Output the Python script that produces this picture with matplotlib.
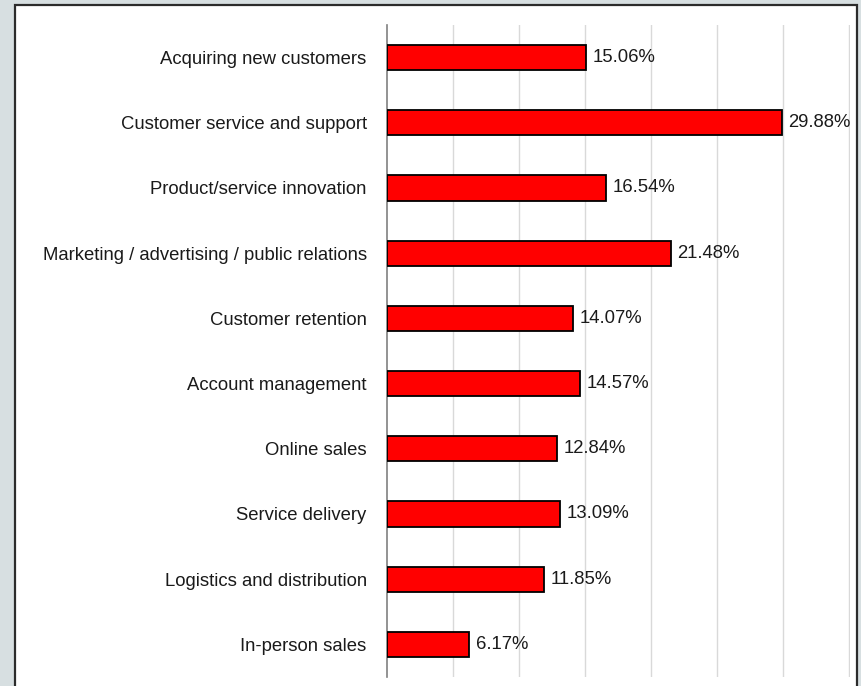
import matplotlib
matplotlib.use("Agg")
import matplotlib.pyplot as plt
from matplotlib import font_manager
from matplotlib.patches import Rectangle

categories = [
    "Acquiring new customers",
    "Customer service and support",
    "Product/service innovation",
    "Marketing / advertising / public relations",
    "Customer retention",
    "Account management",
    "Online sales",
    "Service delivery",
    "Logistics and distribution",
    "In-person sales",
]
values = [15.06, 29.88, 16.54, 21.48, 14.07, 14.57, 12.84, 13.09, 11.85, 6.17]

names = {f.name for f in font_manager.fontManager.ttflist}
family = "Liberation Sans Narrow" if "Liberation Sans Narrow" in names else "Liberation Sans"
narrow = family == "Liberation Sans Narrow"
plt.rcParams["font.family"] = [family, "DejaVu Sans"]
fsize = 15.5 if narrow else 13.3

W, H = 862, 686
fig = plt.figure(figsize=(W / 100, H / 100), dpi=100)
fig.patch.set_facecolor("#d7dfe1")

# white panel with dark frame
panel = Rectangle((15 / W, -0.05), (857 - 15) / W, 1 - 5 / H + 0.05,
                  transform=fig.transFigure, facecolor="white",
                  edgecolor="#2b2b2b", linewidth=1.6, zorder=-10)
fig.patches.append(panel)

left, right, top, bottom = 387.5, 850.5, 25, 677
ax = fig.add_axes([left / W, 1 - bottom / H, (right - left) / W, (bottom - top) / H])
ax.set_facecolor("none")
ax.set_zorder(5)

n = len(categories)
ypos = list(range(n))
ax.barh(ypos, values, height=0.385, color="#ff0000", edgecolor="black",
        linewidth=1.3, zorder=3)
for y, v in zip(ypos, values):
    ax.text(v + 0.5, y, f"{v:.2f}%", va="center", ha="left",
            fontsize=fsize, color="#1a1a1a", zorder=4)

ax.set_xlim(0, 35.08)
ax.set_ylim(n - 0.5, -0.5)
ax.set_xticks(range(5, 36, 5))
ax.xaxis.grid(True, color="#d9d9d9", linewidth=1.0, zorder=0)
ax.set_axisbelow(True)
ax.tick_params(axis="x", length=0, labelbottom=False)
ax.tick_params(axis="y", length=0, pad=15)
ax.set_yticks(ypos)
ax.set_yticklabels(categories, fontsize=fsize, color="#1a1a1a")
for side in ("top", "right", "bottom"):
    ax.spines[side].set_visible(False)
ax.spines["left"].set_color("#808080")
ax.spines["left"].set_linewidth(1.2)

fig.savefig("out.png", dpi=100, facecolor=fig.get_facecolor())
